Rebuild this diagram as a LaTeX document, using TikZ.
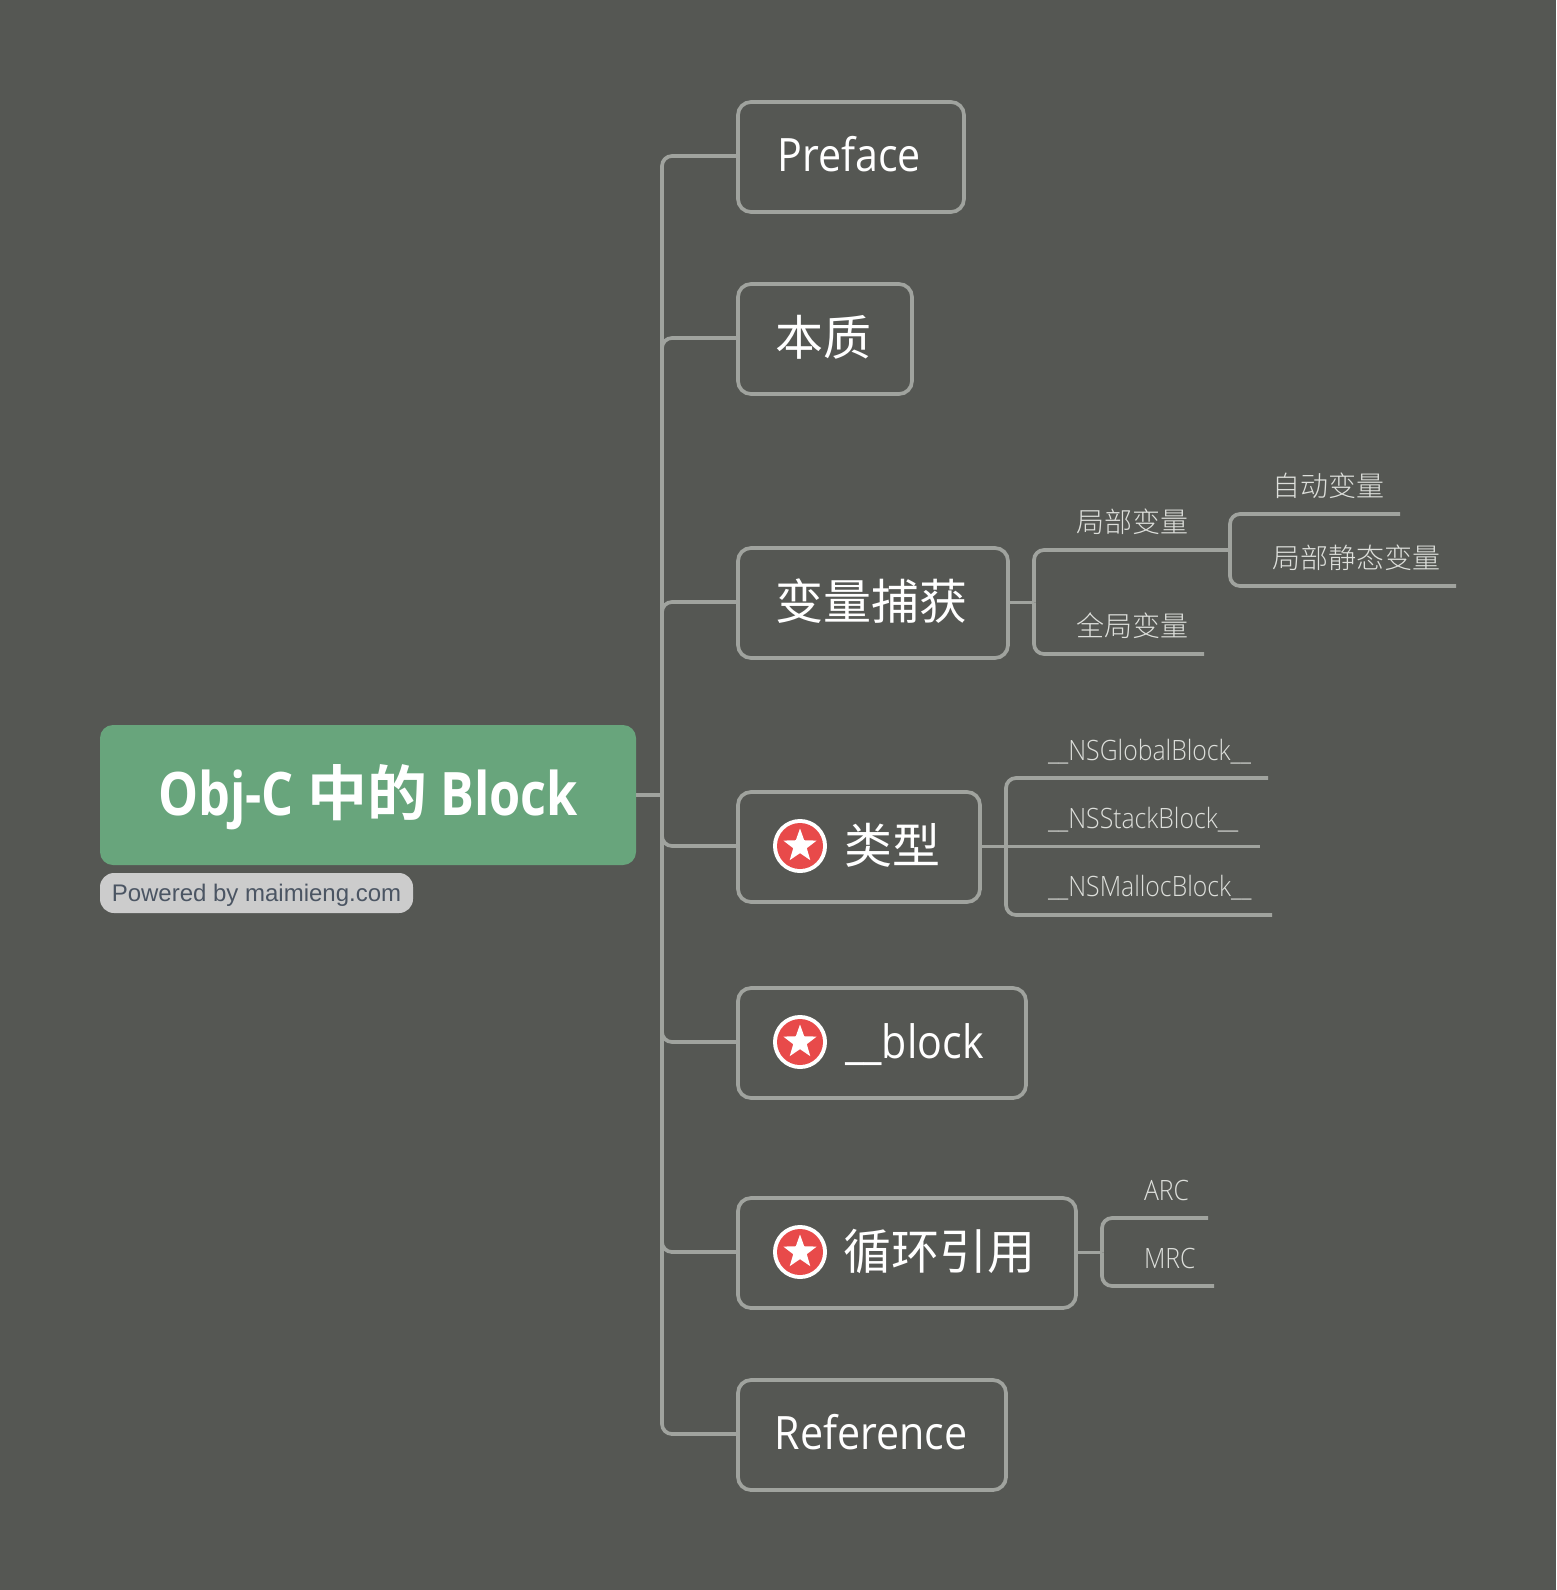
\documentclass[tikz,border=0pt]{standalone}
\usepackage{fontspec}
\usetikzlibrary{shapes.geometric}
\setmainfont{Open Sans}[FakeStretch=0.8]
\newfontfamily\latinreg{Open Sans}[FakeStretch=0.895]
\newfontfamily\latinlight{Open Sans Light}[FakeStretch=0.885]
\newfontfamily\latinbold{Open Sans}[FakeStretch=0.84,UprightFont={* Bold}]
\newfontfamily\cjk{Noto Sans CJK SC}
\newfontfamily\cjklight{Noto Sans CJK SC Light}
\newfontfamily\cjkbold{Noto Sans CJK SC Bold}
\newfontfamily\badgefont{Liberation Sans}
\definecolor{bgc}{HTML}{555753}
\definecolor{linec}{HTML}{A0A39E}
\definecolor{rootc}{HTML}{68A57C}
\definecolor{badgec}{HTML}{CCCCCC}
\definecolor{badget}{HTML}{4B5563}
\definecolor{leaft}{HTML}{DDDFDB}
\definecolor{redc}{HTML}{E84A4A}
\tikzset{
  conn/.style={draw=linec,line width=3.7pt,rounded corners=10pt},
  topic/.style={draw=linec,line width=3.7pt,rounded corners=13pt,rectangle,minimum height=110pt,inner sep=0pt,outer sep=0pt,text=white,text height=28pt,text depth=0pt,font={\fontsize{46}{46}\selectfont\latinreg}},
  topiccjk/.style={topic,text height=32pt,font={\fontsize{48}{48}\selectfont\cjk}},
  toptext/.style={inner sep=0pt,outer sep=0pt,text=white,anchor=base west,font={\fontsize{46}{46}\selectfont\latinreg}},
  leaf/.style={inner sep=0pt,outer sep=0pt,text=leaft,anchor=base west,font={\fontsize{28}{28}\selectfont\latinlight}},
  leafcjk/.style={leaf,font={\fontsize{28}{28}\selectfont\cjklight}},
  iconbase/.style={circle,fill=white,minimum size=54pt,inner sep=0pt,outer sep=0pt},
  iconred/.style={circle,fill=redc,minimum size=46pt,inner sep=0pt,outer sep=0pt},
  iconstar/.style={star,star points=5,star point ratio=2.45,fill=white,minimum size=35pt,inner sep=0pt,outer sep=0pt},
}
\begin{document}
\begin{tikzpicture}[x=1pt,y=-1pt]
\useasboundingbox (0,0) rectangle (1556,1590);
\fill[bgc] (0,0) rectangle (1556,1590);
% root
\node[fill=rootc,rounded corners=13pt,minimum width=536pt,minimum height=140pt,inner sep=0pt,outer sep=0pt,text=white,text height=40pt,text depth=0pt,font={\fontsize{60}{60}\selectfont\latinbold}] (root) at (368,795) {Obj-C {\cjkbold 中的} Block};
\node[fill=badgec,rounded corners=14pt,minimum width=313pt,minimum height=40pt,inner sep=0pt,outer sep=0pt,text=badget,text height=16pt,text depth=0pt,font={\fontsize{24}{24}\selectfont\badgefont}] (badge) at (256.5,893) {Powered by maimieng.com};
% topics
\node[topic,minimum width=226pt] (preface) at (851,157) {Preface\kern4pt};
\node[topiccjk,minimum width=174pt] (essence) at (825,339) {本质\kern4pt};
\node[topiccjk,minimum width=270pt] (capture) at (873,603) {变量捕获\kern4pt};
\node[topic,minimum width=242pt] (types) at (859,847) {};
\node[topic,minimum width=288pt] (blockk) at (882,1043) {};
\node[topic,minimum width=338pt] (cycle) at (907,1253) {};
\node[topic,minimum width=268pt] (reference) at (872,1435) {Reference\kern2pt};
% icons
\foreach \n/\y in {a/846,b/1042,c/1252}{
  \node[iconbase] (icon\n) at (800,\y) {};
  \node[iconred] (red\n) at (800,\y) {};
  \node[iconstar] (star\n) at (800,\y) {};
}
\node[toptext,font={\fontsize{48}{48}\selectfont\cjk}] (typestext) at (844,863) {类型};
\node[toptext] (blocktext) at (845,1058) {\_\_block};
\node[toptext,font={\fontsize{48}{48}\selectfont\cjk}] (cycletext) at (843,1269) {循环引用};
% trunk
\coordinate (trunk) at (662,795);
\draw[conn] (root.east) -- (trunk);
\foreach \t in {preface,essence,capture,types,blockk,cycle,reference}{
  \draw[conn] (trunk) |- ([yshift=1pt]\t.west);
}
% capture sub-tree
\coordinate (capfork) at (1034,602.5);
\coordinate (localfork) at (1230,550);
\coordinate (globalend) at (1204,654);
\coordinate (autoend) at (1400,514);
\coordinate (staticend) at (1456,586);
\draw[conn] ([yshift=.5pt]capture.east) -- (capfork);
\draw[conn] (capfork) |- (localfork);
\draw[conn] (capfork) |- (globalend);
\draw[conn] (localfork) |- (autoend);
\draw[conn] (localfork) |- (staticend);
\node[leafcjk] (local) at (1076,532) {局部变量};
\node[leafcjk] (global) at (1076,636) {全局变量};
\node[leafcjk] (autovar) at (1272,496) {自动变量};
\node[leafcjk] (staticvar) at (1272,568) {局部静态变量};
% types sub-tree
\coordinate (typefork) at (1006,846.5);
\coordinate (globalblockend) at (1268,778);
\coordinate (stackend) at (1260,846.5);
\coordinate (mallocend) at (1272,915);
\draw[conn] ([yshift=.5pt]types.east) -- (stackend);
\draw[conn] (typefork) |- (globalblockend);
\draw[conn] (typefork) |- (mallocend);
\node[leaf] (nsglobal) at (1048,760) {\_\_NSGlobalBlock\_\_};
\node[leaf] (nsstack) at (1048,828) {\_\_NSStackBlock\_\_};
\node[leaf] (nsmalloc) at (1048,896) {\_\_NSMallocBlock\_\_};
% cycle sub-tree
\coordinate (cyclefork) at (1102,1252.5);
\coordinate (arcend) at (1208,1218);
\coordinate (mrcend) at (1214,1286);
\draw[conn] ([yshift=.5pt]cycle.east) -- (cyclefork);
\draw[conn] (cyclefork) |- (arcend);
\draw[conn] (cyclefork) |- (mrcend);
\node[leaf] (arc) at (1144,1200) {ARC};
\node[leaf] (mrc) at (1144,1268) {MRC};
\end{tikzpicture}
\end{document}
